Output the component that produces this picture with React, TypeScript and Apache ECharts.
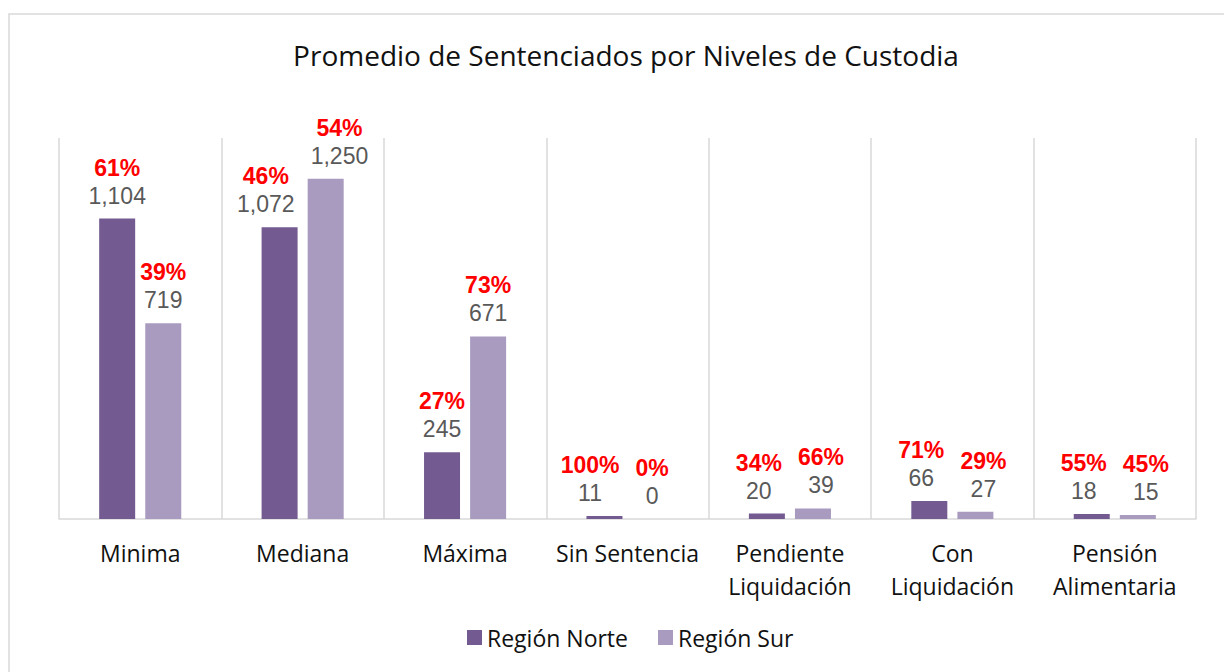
import React, { useEffect, useRef } from "react";
import * as echarts from "echarts";

const categories = [
  "Minima",
  "Mediana",
  "Máxima",
  "Sin Sentencia",
  "Pendiente\nLiquidación",
  "Con\nLiquidación",
  "Pensión\nAlimentaria",
];
const norteValues = [1104, 1072, 245, 11, 20, 66, 18];
const surValues = [719, 1250, 671, 0, 39, 27, 15];
const nortePct = ["61%", "46%", "27%", "100%", "34%", "71%", "55%"];
const surPct = ["39%", "54%", "73%", "0%", "66%", "29%", "45%"];
const seriesNames = ["Región Norte", "Región Sur"];
const titleText = "Promedio de Sentenciados por Niveles de Custodia";

const fmt = (v: number) => v.toLocaleString("en-US");

const Y_MAX = 1400;
const PLOT_H = 381;

export default function App() {
  const ref = useRef<HTMLDivElement>(null);
  useEffect(() => {
    if (!ref.current) return;
    const chart = echarts.init(ref.current, null, { renderer: "svg" });
    const rich = {
      p: {
        color: "#ff0000",
        fontWeight: "bold",
        fontSize: 23,
        fontFamily: "Liberation Sans",
        lineHeight: 28,
      },
      v: {
        color: "#595959",
        fontSize: 23,
        fontFamily: "Liberation Sans",
        lineHeight: 28,
      },
    };
    const allVals = [norteValues, surValues];
    // push overlapping label pairs apart, as the spreadsheet does
    const layout = (p: any) => {
      const i = p.dataIndex;
      const s = p.seriesIndex;
      const mine = allVals[s][i];
      const other = allVals[1 - s][i];
      const k = PLOT_H / Y_MAX;
      const lr = p.labelRect;
      const r = p.rect;
      if (Math.abs(mine - other) * k >= lr.height) return {};
      const half = 8;
      if (s === 0) {
        const center = r.x + r.width + 5;
        const right = lr.x + lr.width;
        const lim = center - half;
        return right > lim ? { dx: lim - right } : {};
      } else {
        const center = r.x - 5;
        const lim = center + half;
        return lr.x < lim ? { dx: lim - lr.x } : {};
      }
    };
    const mkData = (vals: number[]) =>
      vals.map((v) =>
        v === 0 ? { value: v, label: { offset: [0, 11] } } : { value: v }
      );
    const mkSeries = (name: string, vals: number[], pcts: string[], color: string) => ({
      name,
      type: "bar",
      data: mkData(vals),
      barWidth: 36,
      barGap: "28%",
      itemStyle: { color },
      labelLayout: layout,
      label: {
        show: true,
        position: "top",
        distance: 9,
        formatter: (p: any) => `{p|${pcts[p.dataIndex]}}\n{v|${fmt(vals[p.dataIndex])}}`,
        rich,
      },
    });
    chart.setOption({
      animation: false,
      backgroundColor: "#ffffff",
      title: {
        text: titleText,
        left: 621,
        textAlign: "center",
        top: 36,
        textStyle: {
          fontFamily: "Open Sans",
          fontSize: 28,
          fontWeight: "normal",
          color: "#111111",
        },
      },
      legend: {
        bottom: 18,
        left: 462,
        itemWidth: 15,
        itemHeight: 15,
        itemGap: 30,
        icon: "rect",
        textStyle: { fontFamily: "Open Sans", fontSize: 23, color: "#111111" },
        data: seriesNames,
      },
      grid: { left: 59, right: 28, top: 138, bottom: 153 },
      xAxis: {
        type: "category",
        data: categories,
        axisTick: { show: false },
        axisLine: { lineStyle: { color: "#d9d9d9", width: 1.5 } },
        splitLine: { show: true, lineStyle: { color: "#d9d9d9", width: 1.5 } },
        axisLabel: {
          interval: 0,
          margin: 17,
          fontFamily: "Open Sans",
          fontSize: 23,
          lineHeight: 33,
          color: "#111111",
        },
      },
      yAxis: {
        type: "value",
        min: 0,
        max: Y_MAX,
        show: false,
        splitLine: { show: false },
      },
      graphic: [
        {
          type: "rect",
          shape: { x: 9, y: 14, width: 1300, height: 700 },
          style: { fill: "none", stroke: "#d9d9d9", lineWidth: 1.5 },
          silent: true,
        },
      ],
      series: [
        mkSeries(seriesNames[0], norteValues, nortePct, "#735b91"),
        mkSeries(seriesNames[1], surValues, surPct, "#a99bbf"),
      ],
    });
    return () => chart.dispose();
  }, []);
  return (
    <div
      ref={ref}
      style={{ position: "fixed", left: 0, top: 0, width: 1224, height: 672 }}
    />
  );
}
